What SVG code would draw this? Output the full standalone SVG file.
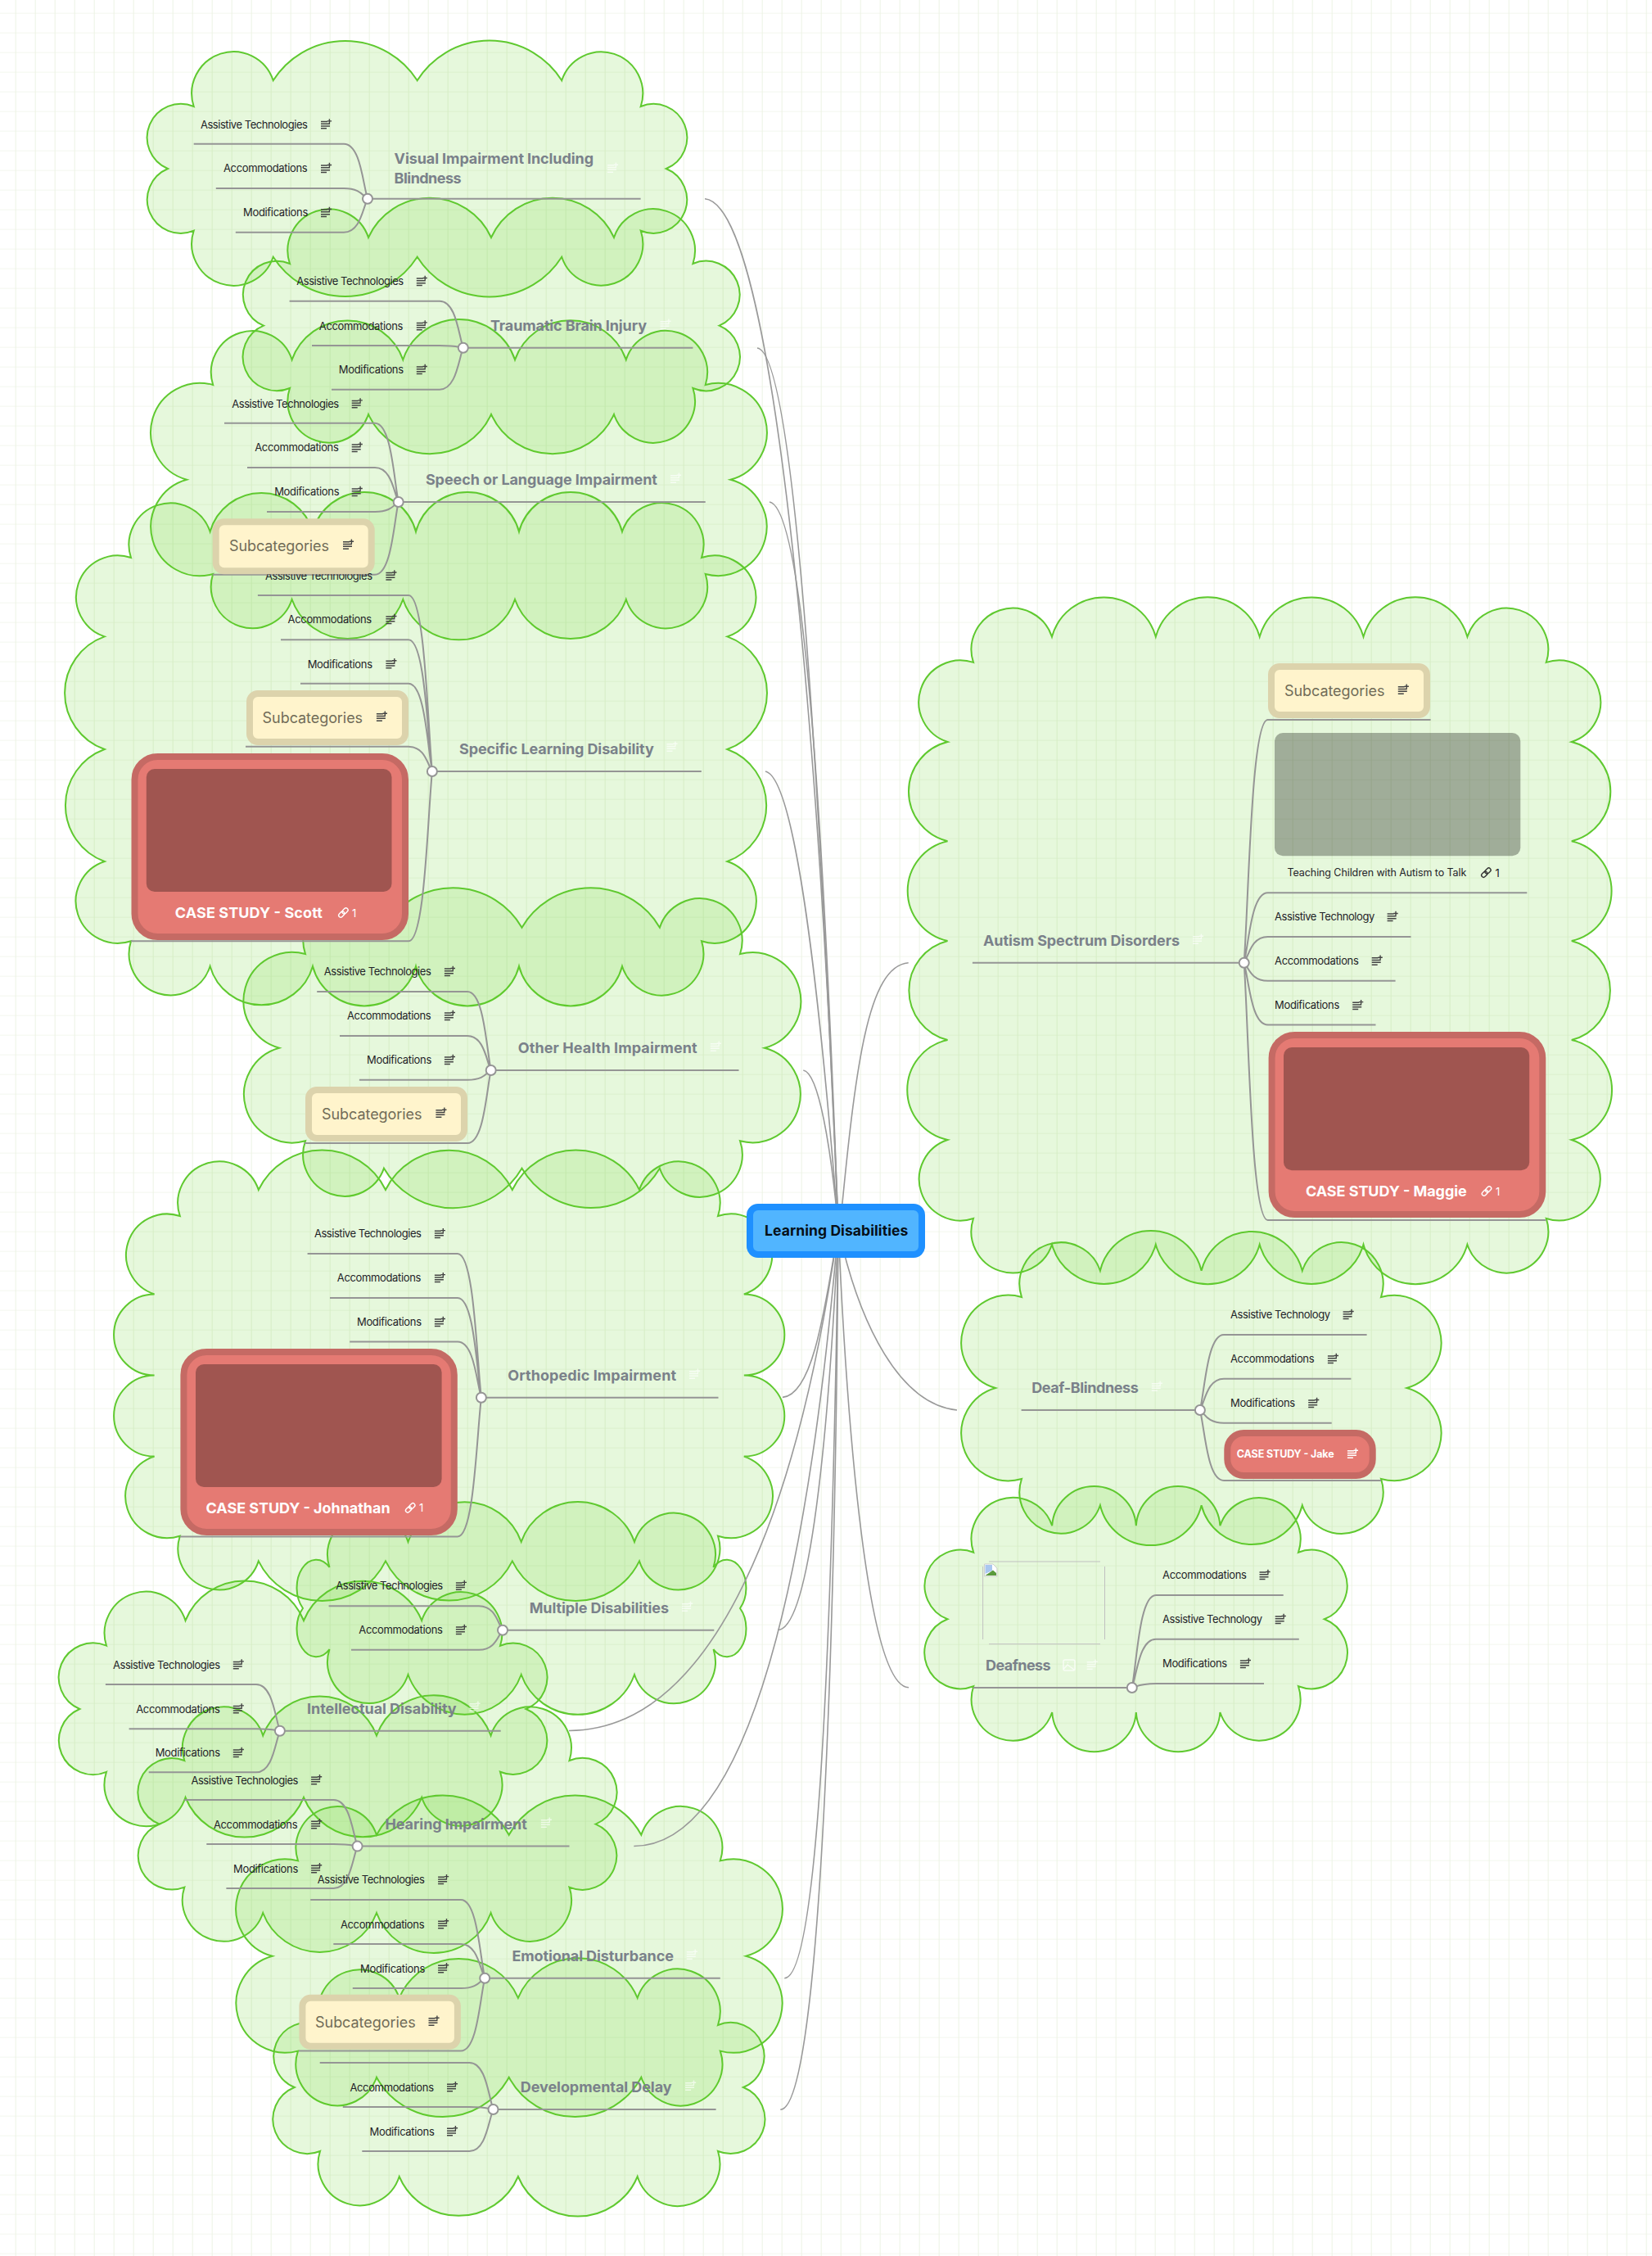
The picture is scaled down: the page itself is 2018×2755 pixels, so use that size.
<svg xmlns="http://www.w3.org/2000/svg" width="2018" height="2755" viewBox="0 0 2018 2755">
<style>
text{font-family:Inter,"Liberation Sans",sans-serif;dominant-baseline:central}
.c{fill:#62d428;fill-opacity:.16;stroke:#5fc92f;stroke-width:2}
.m{fill:none;stroke:#999;stroke-width:1.6}
.e{fill:none;stroke:#959595;stroke-width:2}
.h{fill:#fff;stroke:#959595;stroke-width:2}
.l{font-size:13px;fill:#1f2328}
.t{font-size:18px;font-weight:700;fill:#7a818a}
.s{font-size:18px;fill:#716c58}
.r{font-size:18px;font-weight:700;fill:#fff}
.sb{fill:#fff4cc;stroke:#dcd3ac;stroke-width:8}
.cs{fill:#e57a73;stroke:#c56a64;stroke-width:8}
.im{fill:#000;fill-opacity:.3}
.d{fill:#444}
.w{fill:#fff;fill-opacity:.65}
.o{font-size:13px;fill:#1f2328}
.lk{color:#333}
.lw{color:#fff}
</style>
<defs>
<pattern id="grid" width="24" height="24" patternUnits="userSpaceOnUse" patternTransform="translate(18.67 15.67)">
<rect width="24" height="1" fill="#f3f7ee"/><rect width="1" height="24" fill="#ecf3e4"/>
</pattern>
<path id="note" d="M-6.5-4h8v1.5h-8zM-6.5-1.2h11v1.5h-11zM-6.5 1.6h11v1.5h-11zM-6.5 4.4h7v1.5h-7zM3.2-6.5h1.4v2h2v1.4h-2v2H3.2v-2h-2v-1.4h2z"/>
<g id="link" fill="none" stroke="currentColor" stroke-width="1.4"><rect x="-7" y="-2.5" width="8" height="5" rx="2.5" transform="rotate(-45)"/><rect x="-1" y="-2.5" width="8" height="5" rx="2.5" transform="rotate(-45)"/></g>
</defs>
<rect width="2018" height="2755" fill="#fff"/>
<rect width="2018" height="2755" fill="url(#grid)"/>
<g id="boundaries">
<path class="c" d="M236.7 130A1 1 0 0 1 333.7 98.3A104.3 104.3 0 0 1 509.7 98.3A104.3 104.3 0 0 1 686.2 98.3A1 1 0 0 1 782.7 130A1 1 0 0 1 813.8 206A1 1 0 0 1 782.7 281.7A1 1 0 0 1 686.2 313.7A104.3 104.3 0 0 1 509.7 313.7A104.3 104.3 0 0 1 333.7 313.7A1 1 0 0 1 236.7 281.7A1 1 0 0 1 205 206A1 1 0 0 1 236.7 130Z"/>
<path class="c" d="M354 322A1 1 0 0 1 450 290A82.4 82.4 0 0 1 600 290A82.4 82.4 0 0 1 750 290A1 1 0 0 1 846.4 322A1 1 0 0 1 878.6 397.7A1 1 0 0 1 846.4 474A1 1 0 0 1 750 506A82.4 82.4 0 0 1 600 506A82.4 82.4 0 0 1 450 506A1 1 0 0 1 354 474A1 1 0 0 1 322 397.7A1 1 0 0 1 354 322Z"/>
<path class="c" d="M260.2 470A1 1 0 0 1 356.6 439.3A72 72 0 0 1 492.3 439.3A72 72 0 0 1 629 439.3A72 72 0 0 1 764.8 439.3A1 1 0 0 1 861.7 470A1 1 0 0 1 892.3 585.7A1 1 0 0 1 861.7 701A1 1 0 0 1 764.8 732A72 72 0 0 1 629 732A72 72 0 0 1 492.3 732A72 72 0 0 1 356.6 732A1 1 0 0 1 260.2 701A1 1 0 0 1 228 585.7A1 1 0 0 1 260.2 470Z"/>
<path class="c" d="M160 681A1 1 0 0 1 256.6 649.3A65.2 65.2 0 0 1 382 649.3A65.2 65.2 0 0 1 508 649.3A65.2 65.2 0 0 1 634 649.3A65.2 65.2 0 0 1 760 649.3A1 1 0 0 1 857 681A1 1 0 0 1 888.4 777.4A73 73 0 0 1 888.4 915A73 73 0 0 1 888.4 1052A1 1 0 0 1 857 1149.3A1 1 0 0 1 760 1180A65.2 65.2 0 0 1 634 1180A65.2 65.2 0 0 1 508 1180A65.2 65.2 0 0 1 382 1180A65.2 65.2 0 0 1 256.6 1180A1 1 0 0 1 160 1149.3A1 1 0 0 1 127.7 1052A73 73 0 0 1 127.7 915A73 73 0 0 1 127.7 777.4A1 1 0 0 1 160 681Z"/>
<path class="c" d="M373 1165A1 1 0 0 1 469 1132.7A97.5 97.5 0 0 1 637.5 1132.7A97.5 97.5 0 0 1 805.9 1132.7A1 1 0 0 1 904 1165A1 1 0 0 1 934 1279.7A1 1 0 0 1 904 1393.3A1 1 0 0 1 805.9 1426.7A97.5 97.5 0 0 1 637.5 1426.7A97.5 97.5 0 0 1 469 1426.7A1 1 0 0 1 373 1393.3A1 1 0 0 1 341 1279.7A1 1 0 0 1 373 1165Z"/>
<path class="c" d="M219.8 1485A1 1 0 0 1 315.8 1453A86.3 86.3 0 0 1 471 1453A86.3 86.3 0 0 1 625.8 1453A86.3 86.3 0 0 1 781 1453A1 1 0 0 1 877 1485A1 1 0 0 1 908.8 1580.4A49.5 49.5 0 0 1 908.8 1679.6A49.5 49.5 0 0 1 908.8 1778.6A1 1 0 0 1 877 1875.7A1 1 0 0 1 781 1906.4A86.3 86.3 0 0 1 625.8 1906.4A86.3 86.3 0 0 1 471 1906.4A86.3 86.3 0 0 1 315.8 1906.4A1 1 0 0 1 219.8 1875.7A1 1 0 0 1 188.6 1778.6A49.5 49.5 0 0 1 188.6 1679.6A49.5 49.5 0 0 1 188.6 1580.4A1 1 0 0 1 219.8 1485Z"/>
<path class="c" d="M402.5 1914A1 1 0 0 1 498.5 1882.9A73.4 73.4 0 0 1 636.7 1882.9A73.4 73.4 0 0 1 775 1882.9A1 1 0 0 1 871.5 1914A23.5 34 0 0 1 904 1964A23.5 34 0 0 1 871.5 2014A1 1 0 0 1 775 2045A73.4 73.4 0 0 1 636.7 2045A73.4 73.4 0 0 1 498.5 2045A1 1 0 0 1 402.5 2014A23.5 34 0 0 1 370 1964A23.5 34 0 0 1 402.5 1914Z"/>
<path class="c" d="M130 2009.7A1 1 0 0 1 226.5 1979A78 78 0 0 1 371 1979A78 78 0 0 1 515.2 1979A1 1 0 0 1 611 2009.7A1 1 0 0 1 642.5 2087A1 1 0 0 1 611 2163.8A1 1 0 0 1 515.2 2195A78 78 0 0 1 371 2195A78 78 0 0 1 226.5 2195A1 1 0 0 1 130 2163.8A1 1 0 0 1 97.3 2087A1 1 0 0 1 130 2009.7Z"/>
<path class="c" d="M225.3 2150A1 1 0 0 1 321.2 2119.4A74.2 74.2 0 0 1 460 2119.4A74.2 74.2 0 0 1 599.6 2119.4A1 1 0 0 1 695.5 2150A1 1 0 0 1 727.6 2227.6A1 1 0 0 1 695.5 2304.6A1 1 0 0 1 599.6 2336A74.2 74.2 0 0 1 460 2336A74.2 74.2 0 0 1 321.2 2336A1 1 0 0 1 225.3 2304.6A1 1 0 0 1 194.9 2227.6A1 1 0 0 1 225.3 2150Z"/>
<path class="c" d="M364 2272.4A1 1 0 0 1 460 2240.8A91.8 91.8 0 0 1 621.7 2240.8A91.8 91.8 0 0 1 783.3 2240.8A1 1 0 0 1 879.8 2272.4A1 1 0 0 1 911.3 2388.8A1 1 0 0 1 879.8 2504.6A1 1 0 0 1 783.3 2536.8A91.8 91.8 0 0 1 621.7 2536.8A91.8 91.8 0 0 1 460 2536.8A1 1 0 0 1 364 2504.6A1 1 0 0 1 332.7 2388.8A1 1 0 0 1 364 2272.4Z"/>
<path class="c" d="M391 2473A1 1 0 0 1 487.7 2439.8A79 79 0 0 1 632.9 2439.8A79 79 0 0 1 778.7 2439.8A1 1 0 0 1 877 2473A1 1 0 0 1 908 2549A1 1 0 0 1 877 2627A1 1 0 0 1 778.7 2658A79 79 0 0 1 632.9 2658A79 79 0 0 1 487.7 2658A1 1 0 0 1 391 2627A1 1 0 0 1 359.7 2549A1 1 0 0 1 391 2473Z"/>
<path class="c" d="M1189 808.9A1 1 0 0 1 1285 777.6A65.8 65.8 0 0 1 1411.8 777.6A65.8 65.8 0 0 1 1538.7 777.6A65.8 65.8 0 0 1 1665.5 777.6A65.8 65.8 0 0 1 1792.4 777.6A1 1 0 0 1 1888.8 808.9A1 1 0 0 1 1919.8 906A62.4 62.4 0 0 1 1919.8 1027.2A62.4 62.4 0 0 1 1919.8 1149A62.4 62.4 0 0 1 1919.8 1270A62.4 62.4 0 0 1 1919.8 1392A1 1 0 0 1 1888.8 1488A1 1 0 0 1 1792.4 1519.8A65.8 65.8 0 0 1 1665.5 1519.8A65.8 65.8 0 0 1 1538.7 1519.8A65.8 65.8 0 0 1 1411.8 1519.8A65.8 65.8 0 0 1 1285 1519.8A1 1 0 0 1 1189 1488A1 1 0 0 1 1157.5 1392A62.4 62.4 0 0 1 1157.5 1270A62.4 62.4 0 0 1 1157.5 1149A62.4 62.4 0 0 1 1157.5 1027.2A62.4 62.4 0 0 1 1157.5 906A1 1 0 0 1 1189 808.9Z"/>
<path class="c" d="M1248 1584A1 1 0 0 1 1343.9 1551.7A63.6 63.6 0 0 1 1467.6 1551.7A63.6 63.6 0 0 1 1590.8 1551.7A1 1 0 0 1 1687 1584A1 1 0 0 1 1718.6 1695A1 1 0 0 1 1687 1806A1 1 0 0 1 1590.8 1838.3A63.6 63.6 0 0 1 1467.6 1838.3A63.6 63.6 0 0 1 1343.9 1838.3A1 1 0 0 1 1248 1806A1 1 0 0 1 1216 1695A1 1 0 0 1 1248 1584Z"/>
<path class="c" d="M1189.2 1895.7A1 1 0 0 1 1285.2 1863.3A51.4 51.4 0 0 1 1387.8 1863.3A51.4 51.4 0 0 1 1490.4 1863.3A1 1 0 0 1 1586 1895.7A1 1 0 0 1 1617.8 1977.3A1 1 0 0 1 1586 2059.3A1 1 0 0 1 1490.4 2091A51.4 51.4 0 0 1 1387.8 2091A51.4 51.4 0 0 1 1285.2 2091A1 1 0 0 1 1189.2 2059.3A1 1 0 0 1 1157.4 1977.3A1 1 0 0 1 1189.2 1895.7Z"/>
</g>
<g id="connectors">
<path class="m" d="M861 242.7C945 250 1000 880 1024 1500"/>
<path class="m" d="M925 425C975 430 1005 1050 1024 1500"/>
<path class="m" d="M940 613C985 620 1008 1060 1024 1500"/>
<path class="m" d="M935 942C975 950 1005 1260 1024 1500"/>
<path class="m" d="M981.3 1307C1000 1310 1015 1400 1024 1500"/>
<path class="m" d="M1109.7 1175.8C1060 1180 1045 1300 1026 1500"/>
<path class="m" d="M956 1706.4C990 1703 1005 1620 1024 1500"/>
<path class="m" d="M950 1990.5C985 1990 1010 1800 1024 1500"/>
<path class="m" d="M695 2113.5C860 2113 970 1880 1024 1500"/>
<path class="m" d="M774.3 2254.5C920 2254 990 1900 1024 1500"/>
<path class="m" d="M958.3 2415.7C995 2415 1015 2100 1024 1500"/>
<path class="m" d="M953.3 2576.2C1000 2576 1020 2050 1024 1500"/>
<path class="m" d="M1169 1722C1100 1715 1050 1620 1024 1500"/>
<path class="m" d="M1110 2060.7C1060 2060 1035 1750 1024 1500"/>
<path class="e" d="M782.6 242.7H449M236.7 175.7H420C440 175.7 443 222.6 449 242.7M263.8 230H420C440 230 443 238.9 449 242.7M287.8 283.7H420C440 283.7 443 255 449 242.7"/>
<path class="e" d="M846.4 424.7H565.8M353.6 367.7H537C557 367.7 560 407.6 565.8 424.7M381 422H537C557 422 560 424 565.8 424.7M405 475.7H537C557 475.7 560 440 565.8 424.7"/>
<path class="e" d="M861.7 613H486.7M274 516.7H458C478 516.7 481 584 486.7 613M302 571H458C478 571 481 600.4 486.7 613M326 625H458C478 625 481 616.6 486.7 613M259.7 701.7H458C478 701.7 481 639.6 486.7 613"/>
<path class="e" d="M856.8 942H527.9M314.9 726.9H499C519 726.9 522 877.5 527.9 942M343 781.2H499C519 781.2 522 893.8 527.9 942M367 834.7H499C519 834.7 522 909.8 527.9 942M300 911.8H499C519 911.8 522 933 527.9 942M160 1149.3H499C519 1149.3 522 1004 527.9 942"/>
<path class="e" d="M902.5 1307H599.7M387.2 1211H571C591 1211 594 1278 599.7 1307M415 1265H571C591 1265 594 1294.4 599.7 1307M438.9 1318.7H571C591 1318.7 594 1310.5 599.7 1307M372 1396H571C591 1396 594 1333.7 599.7 1307"/>
<path class="e" d="M877.5 1706.8H587.9M375.6 1531H559C579 1531 582 1654 587.9 1706.8M403 1585H559C579 1585 582 1670 587.9 1706.8M427.2 1638.6H559C579 1638.6 582 1686.3 587.9 1706.8M220 1876.4H559C579 1876.4 582 1757.7 587.9 1706.8"/>
<path class="e" d="M872.3 1990.8H614M401.6 1961.2H585C605 1961.2 608 1982 614 1990.8M429 2014.8H585C605 2014.8 608 1998 614 1990.8"/>
<path class="e" d="M611.7 2113.8H341.9M128.9 2057H313C333 2057 336 2096.8 341.9 2113.8M157.6 2111.2H313C333 2111.2 336 2113 341.9 2113.8M181.7 2164.3H313C333 2164.3 336 2129 341.9 2113.8"/>
<path class="e" d="M695.5 2254.6H436.6M225.3 2198H407.6C427.6 2198 430.6 2237.6 436.6 2254.6M252.3 2252H407.6C427.6 2252 430.6 2253.8 436.6 2254.6M276.4 2306H407.6C427.6 2306 430.6 2270 436.6 2254.6"/>
<path class="e" d="M879.8 2415.8H592.2M379.2 2320H563C583 2320 586 2387 592.2 2415.8M407.3 2374H563C583 2374 586 2403 592.2 2415.8M430.8 2428H563C583 2428 586 2419.5 592.2 2415.8M365 2504.6H563C583 2504.6 586 2442.4 592.2 2415.8"/>
<path class="e" d="M874.6 2576H602.5M390.7 2518.9H573.5C593.5 2518.9 596.5 2558.8 602.5 2576M418.8 2573H573.5C593.5 2573 596.5 2575 602.5 2576M442.3 2627H573.5C593.5 2627 596.5 2591 602.5 2576"/>
<path class="e" d="M1187.9 1175.8H1519.7M1747.6 879H1548.7C1528.7 879 1525.7 1086.8 1519.7 1175.8M1865.3 1090.3H1548.7C1528.7 1090.3 1525.7 1150 1519.7 1175.8M1723.5 1144H1548.7C1528.7 1144 1525.7 1166.3 1519.7 1175.8M1704.6 1197.8H1548.7C1528.7 1197.8 1525.7 1182.4 1519.7 1175.8M1680.5 1251.5H1548.7C1528.7 1251.5 1525.7 1198.5 1519.7 1175.8M1888.3 1490H1548.7C1528.7 1490 1525.7 1270 1519.7 1175.8"/>
<path class="e" d="M1247.6 1722H1465.9M1669.6 1630H1495C1475 1630 1472 1694.4 1465.9 1722M1650.4 1683.7H1495C1475 1683.7 1472 1710.5 1465.9 1722M1626.7 1737.7H1495C1475 1737.7 1472 1726.7 1465.9 1722M1687 1808H1495C1475 1808 1472 1747.8 1465.9 1722"/>
<path class="e" d="M1188.8 2061H1382.8M1567.7 1948H1412C1392 1948 1389 2027 1382.8 2061M1586.8 2001.7H1412C1392 2001.7 1389 2043 1382.8 2061M1544 2056H1412C1392 2056 1389 2059.5 1382.8 2061"/>
<circle class="h" cx="449" cy="242.7" r="6"/><circle class="h" cx="565.8" cy="424.7" r="6"/><circle class="h" cx="486.7" cy="613" r="6"/><circle class="h" cx="527.9" cy="942" r="6"/><circle class="h" cx="599.7" cy="1307" r="6"/><circle class="h" cx="587.9" cy="1706.8" r="6"/><circle class="h" cx="614" cy="1990.8" r="6"/><circle class="h" cx="341.9" cy="2113.8" r="6"/><circle class="h" cx="436.6" cy="2254.6" r="6"/><circle class="h" cx="592.2" cy="2415.8" r="6"/><circle class="h" cx="602.5" cy="2576" r="6"/><circle class="h" cx="1519.7" cy="1175.8" r="6"/><circle class="h" cx="1465.9" cy="1722" r="6"/><circle class="h" cx="1382.8" cy="2061" r="6"/>
</g>
<g id="n-visual">
<text class="t" x="481.6" y="193" textLength="243.4">Visual Impairment Including</text><text class="t" x="481.6" y="217.7" textLength="82">Blindness</text><use href="#note" class="w" x="748.5" y="205"/>
<text class="l" x="244.9" y="151.7" textLength="131">Assistive Technologies</text><use href="#note" class="d" x="398.5" y="151.7"/>
<text class="l" x="273" y="205.3" textLength="102.6">Accommodations</text><use href="#note" class="d" x="398.5" y="205.3"/>
<text class="l" x="297" y="259.3" textLength="79.3">Modifications</text><use href="#note" class="d" x="398.5" y="259.3"/>
</g>
<g id="n-traumatic">
<text class="t" x="599" y="397.7" textLength="191">Traumatic Brain Injury</text><use href="#note" class="w" x="813" y="396"/>
<text class="l" x="362.2" y="343.3" textLength="131">Assistive Technologies</text><use href="#note" class="d" x="515.3" y="343.3"/>
<text class="l" x="389.8" y="397.7" textLength="102.6">Accommodations</text><use href="#note" class="d" x="515.3" y="397.7"/>
<text class="l" x="413.8" y="451.3" textLength="79.3">Modifications</text><use href="#note" class="d" x="515.3" y="451.3"/>
</g>
<g id="n-sld">
<text class="t" x="561" y="914.3" textLength="237.8">Specific Learning Disability</text><use href="#note" class="w" x="821" y="912"/>
<text class="l" x="324" y="702.8" textLength="131">Assistive Technologies</text><use href="#note" class="d" x="477.9" y="702.8"/>
<text class="l" x="351.6" y="756.3" textLength="102.6">Accommodations</text><use href="#note" class="d" x="477.9" y="756.3"/>
<text class="l" x="375.7" y="810.6" textLength="79.3">Modifications</text><use href="#note" class="d" x="477.9" y="810.6"/>
<rect class="sb" x="305" y="847" width="190" height="59" rx="10"/><text class="s" x="320.6" y="876.5" textLength="122.5">Subcategories</text><use href="#note" class="d" x="466.4" y="875"/>
<rect class="cs" x="164.5" y="924" width="330.5" height="220" rx="28"/><rect class="im" x="178.8" y="939" width="299.7" height="150" rx="10"/><text class="r" x="213.8" y="1114.5" textLength="180">CASE STUDY - Scott</text><use href="#link" class="lw" x="419.4" y="1114.5"/><text class="o" style="fill:#fff" x="430" y="1114.5">1</text>
</g>
<g id="n-speech">
<text class="t" x="519.9" y="585.7" textLength="283">Speech or Language Impairment</text><use href="#note" class="w" x="825.5" y="584"/>
<text class="l" x="283.2" y="492.7" textLength="131">Assistive Technologies</text><use href="#note" class="d" x="436.2" y="492.7"/>
<text class="l" x="311.2" y="546.3" textLength="102.6">Accommodations</text><use href="#note" class="d" x="436.2" y="546.3"/>
<text class="l" x="335.2" y="600.3" textLength="79.3">Modifications</text><use href="#note" class="d" x="436.2" y="600.3"/>
<rect class="sb" x="263.7" y="637.3" width="190" height="60" rx="10"/><text class="s" x="280" y="666.7" textLength="122">Subcategories</text><use href="#note" class="d" x="425.5" y="665"/>
</g>
<g id="n-other">
<text class="t" x="632.7" y="1279.3" textLength="219">Other Health Impairment</text><use href="#note" class="w" x="874.3" y="1278"/>
<text class="l" x="395.8" y="1186.3" textLength="131">Assistive Technologies</text><use href="#note" class="d" x="549.4" y="1186.3"/>
<text class="l" x="424" y="1240.3" textLength="102.6">Accommodations</text><use href="#note" class="d" x="549.4" y="1240.3"/>
<text class="l" x="448" y="1294.3" textLength="79.3">Modifications</text><use href="#note" class="d" x="549.4" y="1294.3"/>
<rect class="sb" x="377" y="1331" width="190" height="59" rx="10"/><text class="s" x="393" y="1360.7" textLength="122.5">Subcategories</text><use href="#note" class="d" x="538.9" y="1359"/>
</g>
<g id="n-ortho">
<text class="t" x="620.3" y="1679.6" textLength="205.7">Orthopedic Impairment</text><use href="#note" class="w" x="848.5" y="1678"/>
<text class="l" x="383.9" y="1506.4" textLength="131">Assistive Technologies</text><use href="#note" class="d" x="537.4" y="1506.4"/>
<text class="l" x="411.8" y="1560.4" textLength="102.6">Accommodations</text><use href="#note" class="d" x="537.4" y="1560.4"/>
<text class="l" x="436" y="1614.3" textLength="79">Modifications</text><use href="#note" class="d" x="537.4" y="1614.3"/>
<rect class="cs" x="224.4" y="1651" width="330.4" height="220" rx="28"/><rect class="im" x="239" y="1666" width="300.6" height="150" rx="10"/><text class="r" x="251.6" y="1841.4" textLength="225">CASE STUDY - Johnathan</text><use href="#link" class="lw" x="501.2" y="1841.4"/><text class="o" style="fill:#fff" x="512" y="1841.4">1</text>
</g>
<g id="n-multiple">
<text class="t" x="646.7" y="1963.3" textLength="170.3">Multiple Disabilities</text><use href="#note" class="w" x="839.6" y="1962"/>
<text class="l" x="410.2" y="1936.2" textLength="131">Assistive Technologies</text><use href="#note" class="d" x="563.4" y="1936.2"/>
<text class="l" x="438.3" y="1990.3" textLength="102.6">Accommodations</text><use href="#note" class="d" x="563.4" y="1990.3"/>
</g>
<g id="n-intellectual">
<text class="t" x="375" y="2086.7" textLength="182.7">Intellectual Disability</text><use href="#note" class="w" x="580" y="2084"/>
<text class="l" x="138" y="2032.7" textLength="131">Assistive Technologies</text><use href="#note" class="d" x="291.3" y="2032.7"/>
<text class="l" x="166.2" y="2086.7" textLength="102.6">Accommodations</text><use href="#note" class="d" x="291.3" y="2086.7"/>
<text class="l" x="189.7" y="2140.3" textLength="79.3">Modifications</text><use href="#note" class="d" x="291.3" y="2140.3"/>
</g>
<g id="n-hearing">
<text class="t" x="470.4" y="2227.6" textLength="173.4">Hearing Impairment</text><use href="#note" class="w" x="667.3" y="2226"/>
<text class="l" x="233.4" y="2173.5" textLength="131">Assistive Technologies</text><use href="#note" class="d" x="386.6" y="2173.5"/>
<text class="l" x="260.9" y="2227.6" textLength="102.6">Accommodations</text><use href="#note" class="d" x="386.6" y="2227.6"/>
<text class="l" x="285" y="2281.6" textLength="79.3">Modifications</text><use href="#note" class="d" x="386.6" y="2281.6"/>
</g>
<g id="n-developmental">
<text class="t" x="635.8" y="2548.5" textLength="184.8">Developmental Delay</text><use href="#note" class="w" x="843.6" y="2547"/>
<text class="l" x="427.4" y="2548.5" textLength="102.6">Accommodations</text><use href="#note" class="d" x="552.5" y="2548.5"/>
<text class="l" x="451.5" y="2602.6" textLength="79.3">Modifications</text><use href="#note" class="d" x="552.5" y="2602.6"/>
</g>
<g id="n-emotional">
<text class="t" x="625.4" y="2388.3" textLength="197.5">Emotional Disturbance</text><use href="#note" class="w" x="845.3" y="2387"/>
<text class="l" x="387.8" y="2295.4" textLength="131">Assistive Technologies</text><use href="#note" class="d" x="541.6" y="2295.4"/>
<text class="l" x="415.9" y="2349.5" textLength="102.6">Accommodations</text><use href="#note" class="d" x="541.6" y="2349.5"/>
<text class="l" x="440" y="2403.6" textLength="79.3">Modifications</text><use href="#note" class="d" x="541.6" y="2403.6"/>
<rect class="sb" x="369.4" y="2439.8" width="189.5" height="59" rx="10"/><text class="s" x="385" y="2469.4" textLength="122.8">Subcategories</text><use href="#note" class="d" x="530" y="2468"/>
</g>
<g id="n-autism">
<text class="t" x="1201" y="1148.4" textLength="240">Autism Spectrum Disorders</text><use href="#note" class="w" x="1463.5" y="1147"/>
<rect class="sb" x="1553" y="814" width="190" height="59" rx="10"/><text class="s" x="1569" y="843.4" textLength="122.4">Subcategories</text><use href="#note" class="d" x="1714.3" y="842"/>
<rect class="im" x="1557" y="895" width="300.3" height="150.3" rx="10"/>
<text class="l" style="font-size:12.5px" x="1572.5" y="1065.6" textLength="218.8">Teaching Children with Autism to Talk</text><use href="#link" class="lk" x="1815.4" y="1065.6"/><text class="o" x="1826.5" y="1065.6">1</text>
<text class="l" x="1557" y="1119.3" textLength="122.3">Assistive Technology</text><use href="#note" class="d" x="1701.1" y="1119.3"/>
<text class="l" x="1557" y="1173" textLength="102.8">Accommodations</text><use href="#note" class="d" x="1682.2" y="1173"/>
<text class="l" x="1557" y="1227.4" textLength="79.3">Modifications</text><use href="#note" class="d" x="1658.7" y="1227.4"/>
<rect class="cs" x="1553.6" y="1264" width="330.7" height="219" rx="28"/><rect class="im" x="1568" y="1279" width="300.2" height="150.3" rx="10"/><text class="r" x="1595" y="1454.5" textLength="196.8">CASE STUDY - Maggie</text><use href="#link" class="lw" x="1816" y="1454.5"/><text class="o" style="fill:#fff" x="1827" y="1454.5">1</text>
</g>
<g id="n-deafblind">
<text class="t" x="1260.2" y="1694.3" textLength="130.6">Deaf-Blindness</text><use href="#note" class="w" x="1413.3" y="1693"/>
<text class="l" x="1503" y="1605.3" textLength="122">Assistive Technology</text><use href="#note" class="d" x="1647.1" y="1605.3"/>
<text class="l" x="1503" y="1659.3" textLength="102.5">Accommodations</text><use href="#note" class="d" x="1628.4" y="1659.3"/>
<text class="l" x="1503" y="1713.3" textLength="79.2">Modifications</text><use href="#note" class="d" x="1604.7" y="1713.3"/>
<rect class="cs" x="1499.3" y="1750" width="177.4" height="52" rx="20"/><text class="r" style="font-size:12.5px" x="1510.8" y="1775" textLength="118.8">CASE STUDY - Jake</text><use href="#note" style="fill:#fff" x="1652.4" y="1775"/>
</g>
<g id="n-deafness">
<path d="M1208 1907H1344M1208 2007.7H1344M1200.6 1913V2002M1349.5 1913V2002" fill="none" stroke="#c0c0c0" stroke-width="1"/>
<path d="M1202.6 1910H1213L1217.9 1915V1925H1202.6Z" fill="#fff" stroke="#bbb" stroke-width=".7"/><path d="M1203.5 1911H1212V1918L1203.5 1922Z" fill="#a9c7f0"/><path d="M1203.5 1924L1213 1917.5L1217 1921V1924Z" fill="#5a9a3c"/>
<text class="t" x="1204" y="2033.3" textLength="79.7">Deafness</text>
<g fill="none" stroke="#fff" stroke-opacity=".7" stroke-width="1.5"><rect x="1299" y="2027" width="14" height="13" rx="2"/><path d="M1299.5 2038L1304 2033L1312 2039M1304 2030.5h1"/></g>
<use href="#note" class="w" x="1334.2" y="2033"/>
<text class="l" x="1420" y="1923.3" textLength="102.9">Accommodations</text><use href="#note" class="d" x="1545" y="1923.3"/>
<text class="l" x="1420" y="1977.3" textLength="122">Assistive Technology</text><use href="#note" class="d" x="1564.2" y="1977.3"/>
<text class="l" x="1420" y="2031.3" textLength="79.2">Modifications</text><use href="#note" class="d" x="1521.4" y="2031.3"/>
</g>
<g id="n-root">
<rect x="916" y="1474" width="210" height="58" rx="10" fill="#51b5ff" stroke="#1e90ff" stroke-width="8"/>
<text x="934" y="1502.7" textLength="175.3" style="font-size:17.5px;font-weight:700;fill:#071018">Learning Disabilities</text>
</g>
</svg>
